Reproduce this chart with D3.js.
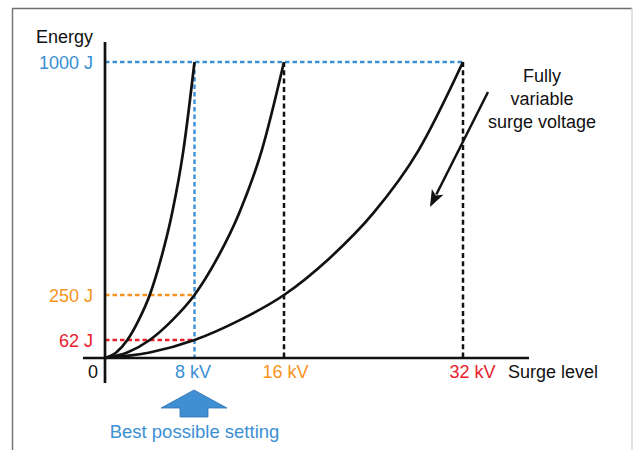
<!DOCTYPE html>
<html>
<head>
<meta charset="utf-8">
<script src="https://cdn.jsdelivr.net/npm/d3@7"></script>
<style>
  html, body { margin: 0; padding: 0; background: #fff; }
  svg { display: block; font-family: "Liberation Sans", Arial, Helvetica, sans-serif; }
</style>
</head>
<body>
<svg id="chart" width="633" height="450"></svg>
<script>
// ---------- data ----------
const yTickValues = [62, 250, 1000];
const yTickLabels = ["62 J", "250 J", "1000 J"];
const xTickValues = [8, 16, 32];
const xTickLabels = ["8 kV", "16 kV", "32 kV"];

// energy curves: [kV, J]
const curve8kV  = [[0,0],[1,19],[2,62],[3,144],[4,250],[5,366],[6,514],[7,714],[8,1000]];
const curve16kV = [[0,0],[2,19],[4,62],[6,144],[8,250],[10,366],[12,514],[14,714],[16,1000]];
const curve32kV = [[0,0],[4,19],[8,62],[12,144],[16,250],[20,366],[24,514],[28,714],[32,1000]];

// ---------- layout ----------
const svg = d3.select("#chart");
const C = { blue: "#3b8fd4", orange: "#f7941d", red: "#e8202a", black: "#111" };

const x = d3.scaleLinear().domain([0, 32]).range([105, 463]);
const y = d3.scaleLinear().domain([0, 62, 250, 1000]).range([358, 340, 295, 62]);

// frame
svg.append("line").attr("x1", 12.5).attr("y1", 8.5).attr("x2", 12.5).attr("y2", 450)
  .attr("stroke", "#777").attr("stroke-width", 1.5);
svg.append("line").attr("x1", 12).attr("y1", 8.5).attr("x2", 632).attr("y2", 8.5)
  .attr("stroke", "#6e6e6e").attr("stroke-width", 1.5);
svg.append("line").attr("x1", 632).attr("y1", 8).attr("x2", 632).attr("y2", 450)
  .attr("stroke", "#cfcfcf").attr("stroke-width", 1.2);

// dashed guides
const g = svg.append("g");
function dash(x1, y1, x2, y2, color, w, da) {
  g.append("line").attr("x1", x1).attr("y1", y1).attr("x2", x2).attr("y2", y2)
    .attr("stroke", color).attr("stroke-width", w).attr("stroke-dasharray", da);
}
dash(x(0), y(1000), x(32), y(1000), C.blue, 2.4, "4.5,3");
dash(x(16), y(1000), x(16), y(0), C.black, 2.5, "5,3.3");
dash(x(32), y(1000), x(32), y(0), C.black, 2.5, "5,3.3");
dash(x(8), y(1000), x(8), y(0), C.blue, 2.4, "4.5,3");
dash(x(0), y(250), x(8), y(250), C.orange, 2.4, "4.5,3");
dash(x(0), y(62), x(8), y(62), C.red, 2.4, "4.5,3");

// curves
const line = d3.line().x(d => x(d[0])).y(d => y(d[1])).curve(d3.curveMonotoneX);
[curve8kV, curve16kV, curve32kV].forEach(c => {
  svg.append("path").attr("d", line(c)).attr("fill", "none")
    .attr("stroke", C.black).attr("stroke-width", 2.7);
});

// axes
svg.append("line").attr("x1", x(0)).attr("y1", 42).attr("x2", x(0)).attr("y2", 383)
  .attr("stroke", C.black).attr("stroke-width", 2.7);
svg.append("line").attr("x1", 83).attr("y1", y(0)).attr("x2", 529).attr("y2", y(0))
  .attr("stroke", C.black).attr("stroke-width", 2.7);

// y tick labels
const yColors = [C.red, C.orange, C.blue];
yTickValues.forEach((v, i) => {
  svg.append("text").attr("x", 93).attr("y", y(v) + 6.5).attr("text-anchor", "end")
    .attr("font-size", 18).attr("fill", yColors[i]).text(yTickLabels[i]);
});
svg.append("text").attr("x", 93).attr("y", 43).attr("text-anchor", "end")
  .attr("font-size", 18).attr("fill", C.black).text("Energy");

// x tick labels
const xColors = [C.blue, C.orange, C.red];
const xDx = [-1.5, 1.5, 9.5];
xTickValues.forEach((v, i) => {
  svg.append("text").attr("x", x(v) + xDx[i]).attr("y", 378).attr("text-anchor", "middle")
    .attr("font-size", 18).attr("fill", xColors[i]).text(xTickLabels[i]);
});
svg.append("text").attr("x", 98).attr("y", 378).attr("text-anchor", "end")
  .attr("font-size", 18).attr("fill", C.black).text("0");
svg.append("text").attr("x", 508).attr("y", 378).attr("text-anchor", "start")
  .attr("font-size", 18).attr("fill", C.black).text("Surge level");

// "Fully variable surge voltage"
["Fully", "variable", "surge voltage"].forEach((t, i) => {
  svg.append("text").attr("x", 542).attr("y", 82 + i * 23).attr("text-anchor", "middle")
    .attr("font-size", 18).attr("fill", C.black).text(t);
});
// black arrow
(function () {
  const x1 = 488, y1 = 92, x2 = 430, y2 = 207;
  const ang = Math.atan2(y2 - y1, x2 - x1);
  const L = 17, W = 6.5;
  const bx = x2 - L * Math.cos(ang), by = y2 - L * Math.sin(ang);
  svg.append("line").attr("x1", x1).attr("y1", y1).attr("x2", bx + 3 * Math.cos(ang)).attr("y2", by + 3 * Math.sin(ang))
    .attr("stroke", C.black).attr("stroke-width", 2.5);
  const px = -Math.sin(ang), py = Math.cos(ang);
  svg.append("polygon")
    .attr("points", [[x2, y2], [bx + W * px, by + W * py], [bx + 4 * Math.cos(ang), by + 4 * Math.sin(ang)], [bx - W * px, by - W * py]].map(p => p.join(",")).join(" "))
    .attr("fill", C.black);
})();

// blue up arrow
svg.append("polygon")
  .attr("points", "194,390 227,408 208,408 208,417 180,417 180,408 161,408")
  .attr("fill", "#3f8fd2").attr("stroke", "#2f72b0").attr("stroke-width", 0.8);
svg.append("text").attr("x", 194.5).attr("y", 438).attr("text-anchor", "middle")
  .attr("font-size", 18.5).attr("fill", C.blue).text("Best possible setting");
</script>
</body>
</html>
